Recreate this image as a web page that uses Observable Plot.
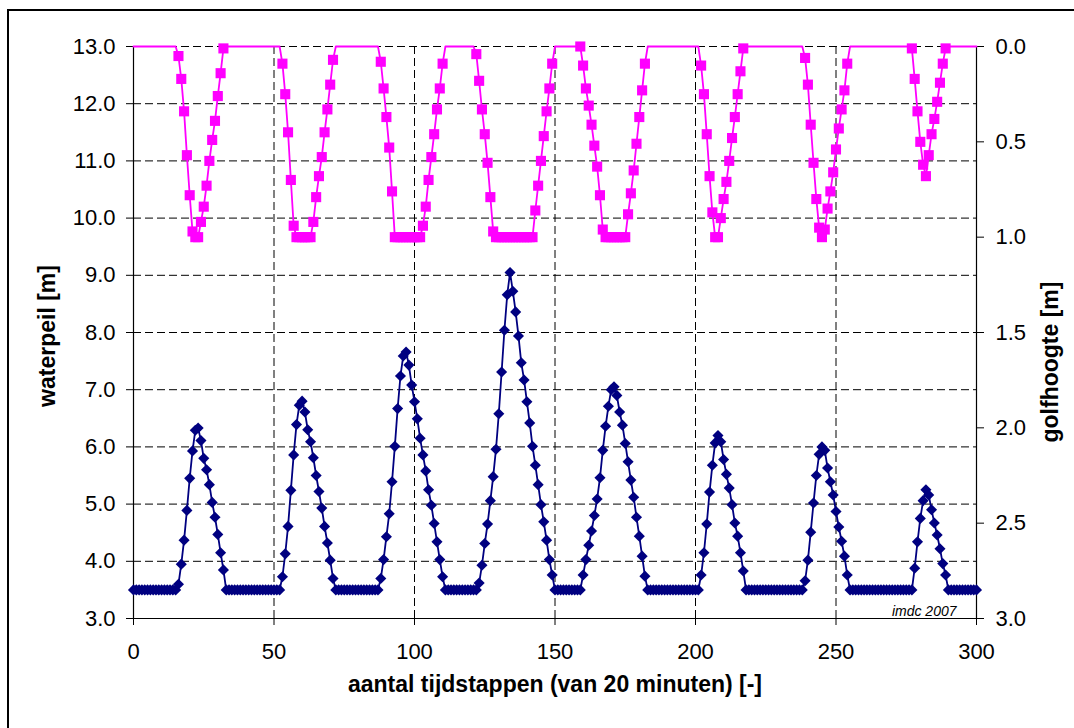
<!DOCTYPE html>
<html>
<head>
<meta charset="utf-8">
<script src="https://cdn.jsdelivr.net/npm/d3@7"></script>
<script src="https://cdn.jsdelivr.net/npm/@observablehq/plot@0.6"></script>
<style>
  html, body { margin: 0; padding: 0; background: #fff; overflow: hidden; }
  #wrap { position: relative; width: 1074px; height: 728px; font-family: 'Liberation Sans', Arial, sans-serif; }
  #chart { position: absolute; left: 0; top: 0; }
  #border { position: absolute; left: 7px; top: 9px; width: 1100px; height: 800px;
            border-left: 2px solid #000; border-top: 2px solid #000; pointer-events: none; }
  .ytitle { position: absolute; font-size: 23px; font-weight: bold; color: #000; white-space: nowrap;
            line-height: 1; transform: translate(-50%, -50%) rotate(-90deg); }
</style>
</head>
<body>
<div id="wrap">
  <div id="chart"></div>
  <div class="ytitle" id="ytitleLeft" style="left:47px; top:336px;"></div>
  <div class="ytitle" id="ytitleRight" style="left:1050px; top:362px;"></div>
  <div id="border"></div>
</div>
<script>
// waterpeil [m], one value per tijdstap 0..300
const waterpeil = [
  3.5,3.5,3.5,3.5,3.5,3.5,3.5,3.5,3.5,3.5,3.5,3.5,3.5,3.5,3.5,3.5,
  3.60,3.95,4.37,4.89,5.45,5.93,6.29,6.33,6.11,5.80,5.60,5.34,5.03,4.77,4.47,4.15,3.85,
  3.5,3.5,3.5,3.5,3.5,3.5,3.5,3.5,3.5,3.5,3.5,3.5,3.5,3.5,3.5,3.5,3.5,3.5,3.5,3.5,
  3.73,4.13,4.61,5.24,5.86,6.39,6.73,6.80,6.61,6.30,6.09,5.81,5.50,5.22,4.93,4.61,4.32,4.02,3.70,
  3.5,3.5,3.5,3.5,3.5,3.5,3.5,3.5,3.5,3.5,3.5,3.5,3.5,3.5,3.5,3.5,
  3.70,4.03,4.43,4.83,5.39,6.01,6.67,7.24,7.59,7.66,7.43,7.08,6.79,6.49,6.15,5.86,5.58,5.25,4.98,4.66,4.34,4.03,3.73,
  3.5,3.5,3.5,3.5,3.5,3.5,3.5,3.5,3.5,3.5,3.5,3.5,
  3.62,3.93,4.31,4.65,5.06,5.48,5.96,6.58,7.31,8.04,8.66,9.05,8.72,8.36,7.94,7.47,7.17,6.79,6.42,6.01,5.68,5.34,4.99,4.69,4.37,4.03,3.76,
  3.5,3.5,3.5,3.5,3.5,3.5,3.5,3.5,3.5,3.5,
  3.76,4.03,4.28,4.53,4.80,5.09,5.46,5.94,6.36,6.71,7.00,7.05,6.90,6.61,6.38,6.06,5.74,5.42,5.12,4.77,4.44,4.09,3.74,
  3.5,3.5,3.5,3.5,3.5,3.5,3.5,3.5,3.5,3.5,3.5,3.5,3.5,3.5,3.5,3.5,3.5,3.5,3.5,
  3.76,4.15,4.65,5.21,5.68,6.07,6.20,6.09,5.78,5.52,5.28,4.99,4.67,4.44,4.15,3.83,
  3.5,3.5,3.5,3.5,3.5,3.5,3.5,3.5,3.5,3.5,3.5,3.5,3.5,3.5,3.5,3.5,3.5,3.5,3.5,3.5,3.5,
  3.66,4.02,4.51,5.02,5.50,5.87,6.00,5.94,5.63,5.39,5.16,4.87,4.60,4.35,4.09,3.76,
  3.5,3.5,3.5,3.5,3.5,3.5,3.5,3.5,3.5,3.5,3.5,3.5,3.5,3.5,3.5,3.5,3.5,3.5,3.5,3.5,3.5,3.5,3.5,
  3.88,4.34,4.75,5.06,5.25,5.16,4.90,4.67,4.46,4.22,3.96,3.76,
  3.5,3.5,3.5,3.5,3.5,3.5,3.5,3.5,3.5,3.5,3.5
];

// golfhoogte [m], one value per tijdstap 0..300 (null = no waves, drawn on the 0.0 line without marker)
const golfhoogte = [
  null,null,null,null,null,null,null,null,null,null,null,null,null,null,null,null,
  0.05,0.17,0.34,0.57,0.78,0.97,1.0,1.0,0.92,0.84,0.73,0.60,0.49,0.39,0.26,0.14,0.01,
  null,null,null,null,null,null,null,null,null,null,null,null,null,null,null,null,null,null,null,null,
  0.09,0.25,0.45,0.70,0.94,1.0,1.0,1.0,1.0,1.0,1.0,0.92,0.79,0.68,0.58,0.45,0.33,0.20,0.07,
  null,null,null,null,null,null,null,null,null,null,null,null,null,null,null,null,
  0.08,0.22,0.37,0.53,0.76,1.0,1.0,1.0,1.0,1.0,1.0,1.0,1.0,1.0,1.0,0.94,0.84,0.70,0.58,0.46,0.33,0.22,0.09,
  null,null,null,null,null,null,null,null,null,null,null,
  0.04,0.18,0.33,0.46,0.61,0.79,0.97,1.0,1.0,1.0,1.0,1.0,1.0,1.0,1.0,1.0,1.0,1.0,1.0,1.0,1.0,0.86,0.73,0.60,0.47,0.34,0.22,0.09,
  null,null,null,null,null,null,null,null,null,
  0.0,0.10,0.22,0.31,0.41,0.52,0.63,0.78,0.96,1.0,1.0,1.0,1.0,1.0,1.0,1.0,1.0,0.88,0.77,0.65,0.51,0.37,0.23,0.09,
  null,null,null,null,null,null,null,null,null,null,null,null,null,null,null,null,null,null,null,
  0.10,0.25,0.46,0.68,0.87,1.0,1.0,0.90,0.80,0.71,0.60,0.48,0.37,0.25,0.13,0.01,
  null,null,null,null,null,null,null,null,null,null,null,null,null,null,null,null,null,null,null,null,null,
  0.06,0.20,0.41,0.61,0.80,0.95,1.0,0.96,0.85,0.76,0.66,0.54,0.43,0.33,0.23,0.09,
  null,null,null,null,null,null,null,null,null,null,null,null,null,null,null,null,null,null,null,null,null,null,
  0.01,0.17,0.34,0.50,0.62,0.68,0.57,0.46,0.38,0.29,0.19,0.09,0.01,
  null,null,null,null,null,null,null,null,null,null,null
];

const xTicks = [0, 50, 100, 150, 200, 250, 300];
const xGrid = [50, 100, 150, 200, 250];
const waterpeilTicks = [3, 4, 5, 6, 7, 8, 9, 10, 11, 12, 13];
const waterpeilGrid = [4, 5, 6, 7, 8, 9, 10, 11, 12, 13];
const golfTicks = [0, 0.5, 1.0, 1.5, 2.0, 2.5, 3.0];

const titleX = "aantal tijdstappen (van 20 minuten) [-]";
const titleYLeft = "waterpeil [m]";
const titleYRight = "golfhoogte [m]";
const credit = "imdc 2007";

// secondary axis: golfhoogte 0 m at waterpeil 13, 3 m at waterpeil 3 (reversed)
const golfToY = h => 13 - h * 10 / 3;
const yToGolf = y => (13 - y) * 3 / 10;

const rows = waterpeil.map((w, i) => ({t: i, w, h: golfhoogte[i]}));

const navy = "#000080";
const magenta = "#FF00FF";
const fmt = d3.format(".1f");

const chart = Plot.plot({
  width: 1074,
  height: 728,
  marginLeft: 133,
  marginRight: 98,
  marginTop: 46,
  marginBottom: 110,
  style: {fontFamily: "'Liberation Sans', Arial, sans-serif", color: "#000", background: "transparent"},
  x: {domain: [0, 300], axis: null},
  y: {domain: [3, 13], axis: null},
  marks: [
    Plot.ruleY(waterpeilGrid, {stroke: "#000", strokeWidth: 1, strokeDasharray: "8,4"}),
    Plot.ruleX(xGrid, {stroke: "#000", strokeWidth: 1, strokeDasharray: "8,4"}),
    Plot.ruleX([0, 300], {stroke: "#000", strokeWidth: 1.2}),
    Plot.ruleY([3], {stroke: "#000", strokeWidth: 1.2}),
    Plot.axisY({anchor: "left", ticks: waterpeilTicks, tickFormat: fmt, tickSize: 7, tickPadding: 11, fontSize: 22, label: null}),
    Plot.axisY({anchor: "right", ticks: golfTicks.map(golfToY), tickFormat: y => fmt(yToGolf(y)), tickSize: 7, tickPadding: 12, fontSize: 22, label: null}),
    Plot.axisX({anchor: "bottom", ticks: xTicks, tickSize: 7, tickPadding: 18, fontSize: 22, label: null}),
    // waterpeil
    Plot.line(rows, {x: "t", y: "w", stroke: navy, strokeWidth: 1.8}),
    Plot.dot(rows, {x: "t", y: "w", symbol: "diamond2", r: 5.0, fill: navy, stroke: "none"}),
    // golfhoogte
    Plot.line(rows, {x: "t", y: d => golfToY(d.h ?? 0), stroke: magenta, strokeWidth: 1.8}),
    Plot.dot(rows.filter(d => d.h != null), {x: "t", y: d => golfToY(d.h), symbol: "square", r: 5.7, fill: magenta, stroke: "none"}),
    // titles
    Plot.text([titleX], {text: d => d, frameAnchor: "bottom", dy: 73, fontSize: 23, fontWeight: "bold", fill: "#000"}),
    Plot.text([credit], {text: d => d, frameAnchor: "bottom-right", dx: -20, dy: -3, textAnchor: "end", lineAnchor: "bottom", fontStyle: "italic", fontSize: 14, fill: "#000"})
  ]
});
document.getElementById("chart").appendChild(chart);
document.getElementById("ytitleLeft").textContent = titleYLeft;
document.getElementById("ytitleRight").textContent = titleYRight;
</script>
</body>
</html>
